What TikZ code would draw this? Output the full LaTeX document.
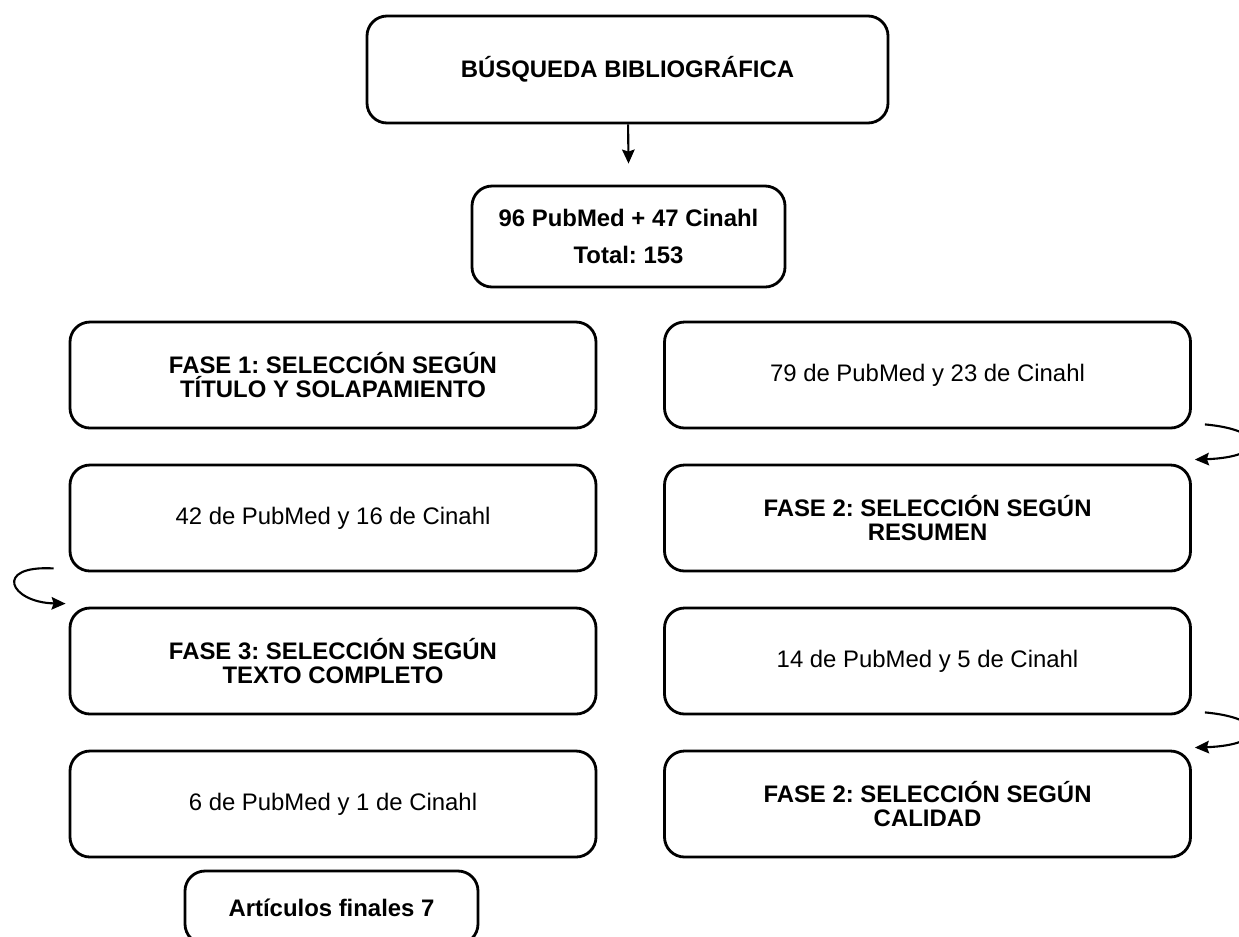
\documentclass[tikz,border=0pt]{standalone}
\usepackage{fontspec}
\setmainfont{Liberation Sans}
\frenchspacing
\usetikzlibrary{arrows.meta}

\begin{document}
\begin{tikzpicture}[node distance=2.86cm,
    every node/.style={draw, line width=1.6pt, rounded corners=0.4cm, align=center, inner sep=0pt},
    fase/.style={minimum width=10.52cm, minimum height=2.12cm, font=\bfseries\fontsize{13.6}{14.2}\selectfont},
    cuenta/.style={minimum width=10.52cm, minimum height=2.12cm, font=\fontsize{13.6}{15}\selectfont},
    flecha/.style={line width=1.2pt, -{Stealth[length=0.28cm, width=0.25cm, inset=0.04cm]}}]

    \useasboundingbox (0,0) rectangle (24.78,-18.72);

    % Nodes
    \node[minimum width=10.42cm, minimum height=2.14cm, font=\bfseries\fontsize{13.6}{15}\selectfont] (busq) at (12.55,-1.39) {BÚSQUEDA BIBLIOGRÁFICA};
    \node[minimum width=6.26cm, minimum height=2.02cm, font=\bfseries\fontsize{13.6}{15}\selectfont] (total) at (12.57,-4.73) {96 PubMed + 47 Cinahl\\[6.5pt]Total: 153};

    \node[fase] (f1) at (6.66,-7.5) {FASE 1: SELECCIÓN SEGÚN\\TÍTULO Y SOLAPAMIENTO};
    \node[cuenta, below of=f1] (n1) {42 de PubMed y 16 de Cinahl};
    \node[fase, below of=n1] (f3) {FASE 3: SELECCIÓN SEGÚN\\TEXTO COMPLETO};
    \node[cuenta, below of=f3] (n3) {6 de PubMed y 1 de Cinahl};

    \node[cuenta] (n0) at (18.55,-7.5) {79 de PubMed y 23 de Cinahl};
    \node[fase, below of=n0] (f2) {FASE 2: SELECCIÓN SEGÚN\\RESUMEN};
    \node[cuenta, below of=f2] (n2) {14 de PubMed y 5 de Cinahl};
    \node[fase, below of=n2] (f4) {FASE 2: SELECCIÓN SEGÚN\\CALIDAD};

    \node[minimum width=5.86cm, minimum height=1.46cm, font=\bfseries\fontsize{13.6}{15}\selectfont] (fin) at (6.63,-18.15) {Artículos finales 7};

    % Edges
    \draw[flecha] (busq) -- ([yshift=0.42cm]total.north);
    \draw[flecha] ([xshift=0.26cm, yshift=0.1cm]n0.south east) .. controls (25.35,-8.6) and (25.35,-9.14) .. ([xshift=0.06cm, yshift=0.08cm]f2.north east);
    \draw[flecha] ([xshift=-0.3cm, yshift=0.08cm]n1.south west) .. controls (-0.15,-11.3) and (0.2,-12.05) .. ([xshift=-0.06cm, yshift=0.06cm]f3.north west);
    \draw[flecha] ([xshift=0.26cm, yshift=0.06cm]n2.south east) .. controls (25.35,-14.36) and (25.35,-14.9) .. ([xshift=0.06cm, yshift=0.04cm]f4.north east);

\end{tikzpicture}
\end{document}
